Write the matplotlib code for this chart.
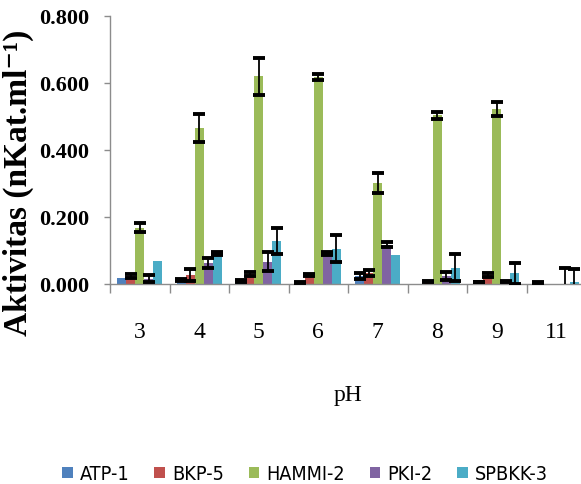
import matplotlib
matplotlib.use("Agg")
import matplotlib.pyplot as plt
from matplotlib import font_manager
from matplotlib.font_manager import FontProperties
from matplotlib.patches import Patch
import numpy as np

ph_labels = ["3", "4", "5", "6", "7", "8", "9", "11"]
series_names = ["ATP-1", "BKP-5", "HAMMI-2", "PKI-2", "SPBKK-3"]
colors = ["#4F81BD", "#C0504D", "#9BBB59", "#8064A2", "#4BACC6"]

atp1 = [0.017, 0.010, 0.006, 0.002, 0.022, 0.000, 0.004, 0.002]
atp1_err = [0.000, 0.004, 0.003, 0.001, 0.009, 0.000, 0.001, 0.001]
bkp5 = [0.022, 0.025, 0.028, 0.025, 0.030, 0.006, 0.024, 0.000]
bkp5_err = [0.007, 0.018, 0.006, 0.004, 0.009, 0.002, 0.006, 0.000]
hammi2 = [0.167, 0.466, 0.620, 0.617, 0.300, 0.503, 0.523, 0.000]
hammi2_err = [0.013, 0.042, 0.055, 0.009, 0.030, 0.011, 0.021, 0.000]
pki2 = [0.014, 0.062, 0.065, 0.090, 0.116, 0.022, 0.006, 0.000]
pki2_err = [0.011, 0.015, 0.028, 0.004, 0.008, 0.013, 0.002, 0.045]
spbkk3 = [0.067, 0.090, 0.126, 0.104, 0.086, 0.047, 0.030, 0.005]
spbkk3_err = [0.000, 0.004, 0.039, 0.041, 0.000, 0.040, 0.032, 0.037]

values = [atp1, bkp5, hammi2, pki2, spbkk3]
errors = [atp1_err, bkp5_err, hammi2_err, pki2_err, spbkk3_err]


def legend_font():
    """Prefer a condensed sans face for the legend, else a smaller regular one."""
    for fam, size in [("Liberation Sans Narrow", 15.5), ("DejaVu Sans", 14.2)]:
        try:
            fp = FontProperties(family=fam, stretch="condensed")
            path = font_manager.findfont(fp, fallback_to_default=False)
            if "Narrow" in path or "Condensed" in path:
                return FontProperties(fname=path, size=size), True
        except Exception:
            continue
    return FontProperties(family="Liberation Sans", size=13.8), False


serif = ["Liberation Serif", "DejaVu Serif"]
leg_prop, is_narrow = legend_font()

fig = plt.figure(figsize=(5.81, 4.85), dpi=100)
ax = fig.add_axes([110 / 581, 1 - 284.5 / 485, 476 / 581, 267.5 / 485])

n_groups = len(ph_labels)
x = np.arange(n_groups)
w = 0.151
for k, (vals, errs, c) in enumerate(zip(values, errors, colors)):
    pos = x + (k - 2) * w
    ax.bar(pos, vals, width=w, color=c, edgecolor="none", zorder=2)
    errs = np.asarray(errs)
    m = errs > 0
    ax.errorbar(pos[m], np.asarray(vals)[m], yerr=errs[m], fmt="none",
                ecolor="black", elinewidth=1.3, capsize=4.2, capthick=2.8,
                zorder=3)

ax.set_xlim(-0.5, n_groups - 0.5)
ax.set_ylim(0, 0.8)
ax.set_yticks(np.arange(0, 0.81, 0.2))
ax.set_yticklabels([f"{v:.3f}" for v in np.arange(0, 0.81, 0.2)],
                   family=serif, fontweight="bold", fontsize=16)

# labels sit at the group centres; tick marks sit on the group boundaries
ax.set_xticks(x)
ax.set_xticklabels(ph_labels, family=serif, fontsize=17)
ax.set_xticks(np.arange(-0.5, n_groups, 1.0), minor=True)
ax.tick_params(axis="x", which="major", length=0, pad=27)
ax.tick_params(axis="x", which="minor", length=6.5, width=1, color="#8c8c8c")
ax.tick_params(axis="y", length=4, width=1, color="#8c8c8c", pad=11)

for s in ["top", "right"]:
    ax.spines[s].set_visible(False)
for s in ["left", "bottom"]:
    ax.spines[s].set_color("#8c8c8c")
    ax.spines[s].set_linewidth(1.0)

ax.set_ylabel("Aktivitas (nKat.ml\u207b\u00b9)", family=serif,
              fontweight="bold", fontsize=24)
ax.yaxis.set_label_coords(-0.16, 0.38)
ax.set_xlabel("pH", family=serif, fontsize=17)
ax.xaxis.set_label_coords(0.5, -0.375)

handles = [Patch(facecolor=c, edgecolor="none") for c in colors]
fig.legend(handles, series_names, loc="center", ncol=5,
           bbox_to_anchor=(305 / 581, 1 - 475 / 485), frameon=False,
           prop=leg_prop,
           handlelength=0.55, handleheight=0.55, handletextpad=0.35,
           columnspacing=1.25,
           borderaxespad=0, borderpad=0)

fig.savefig("out.png", dpi=100)
